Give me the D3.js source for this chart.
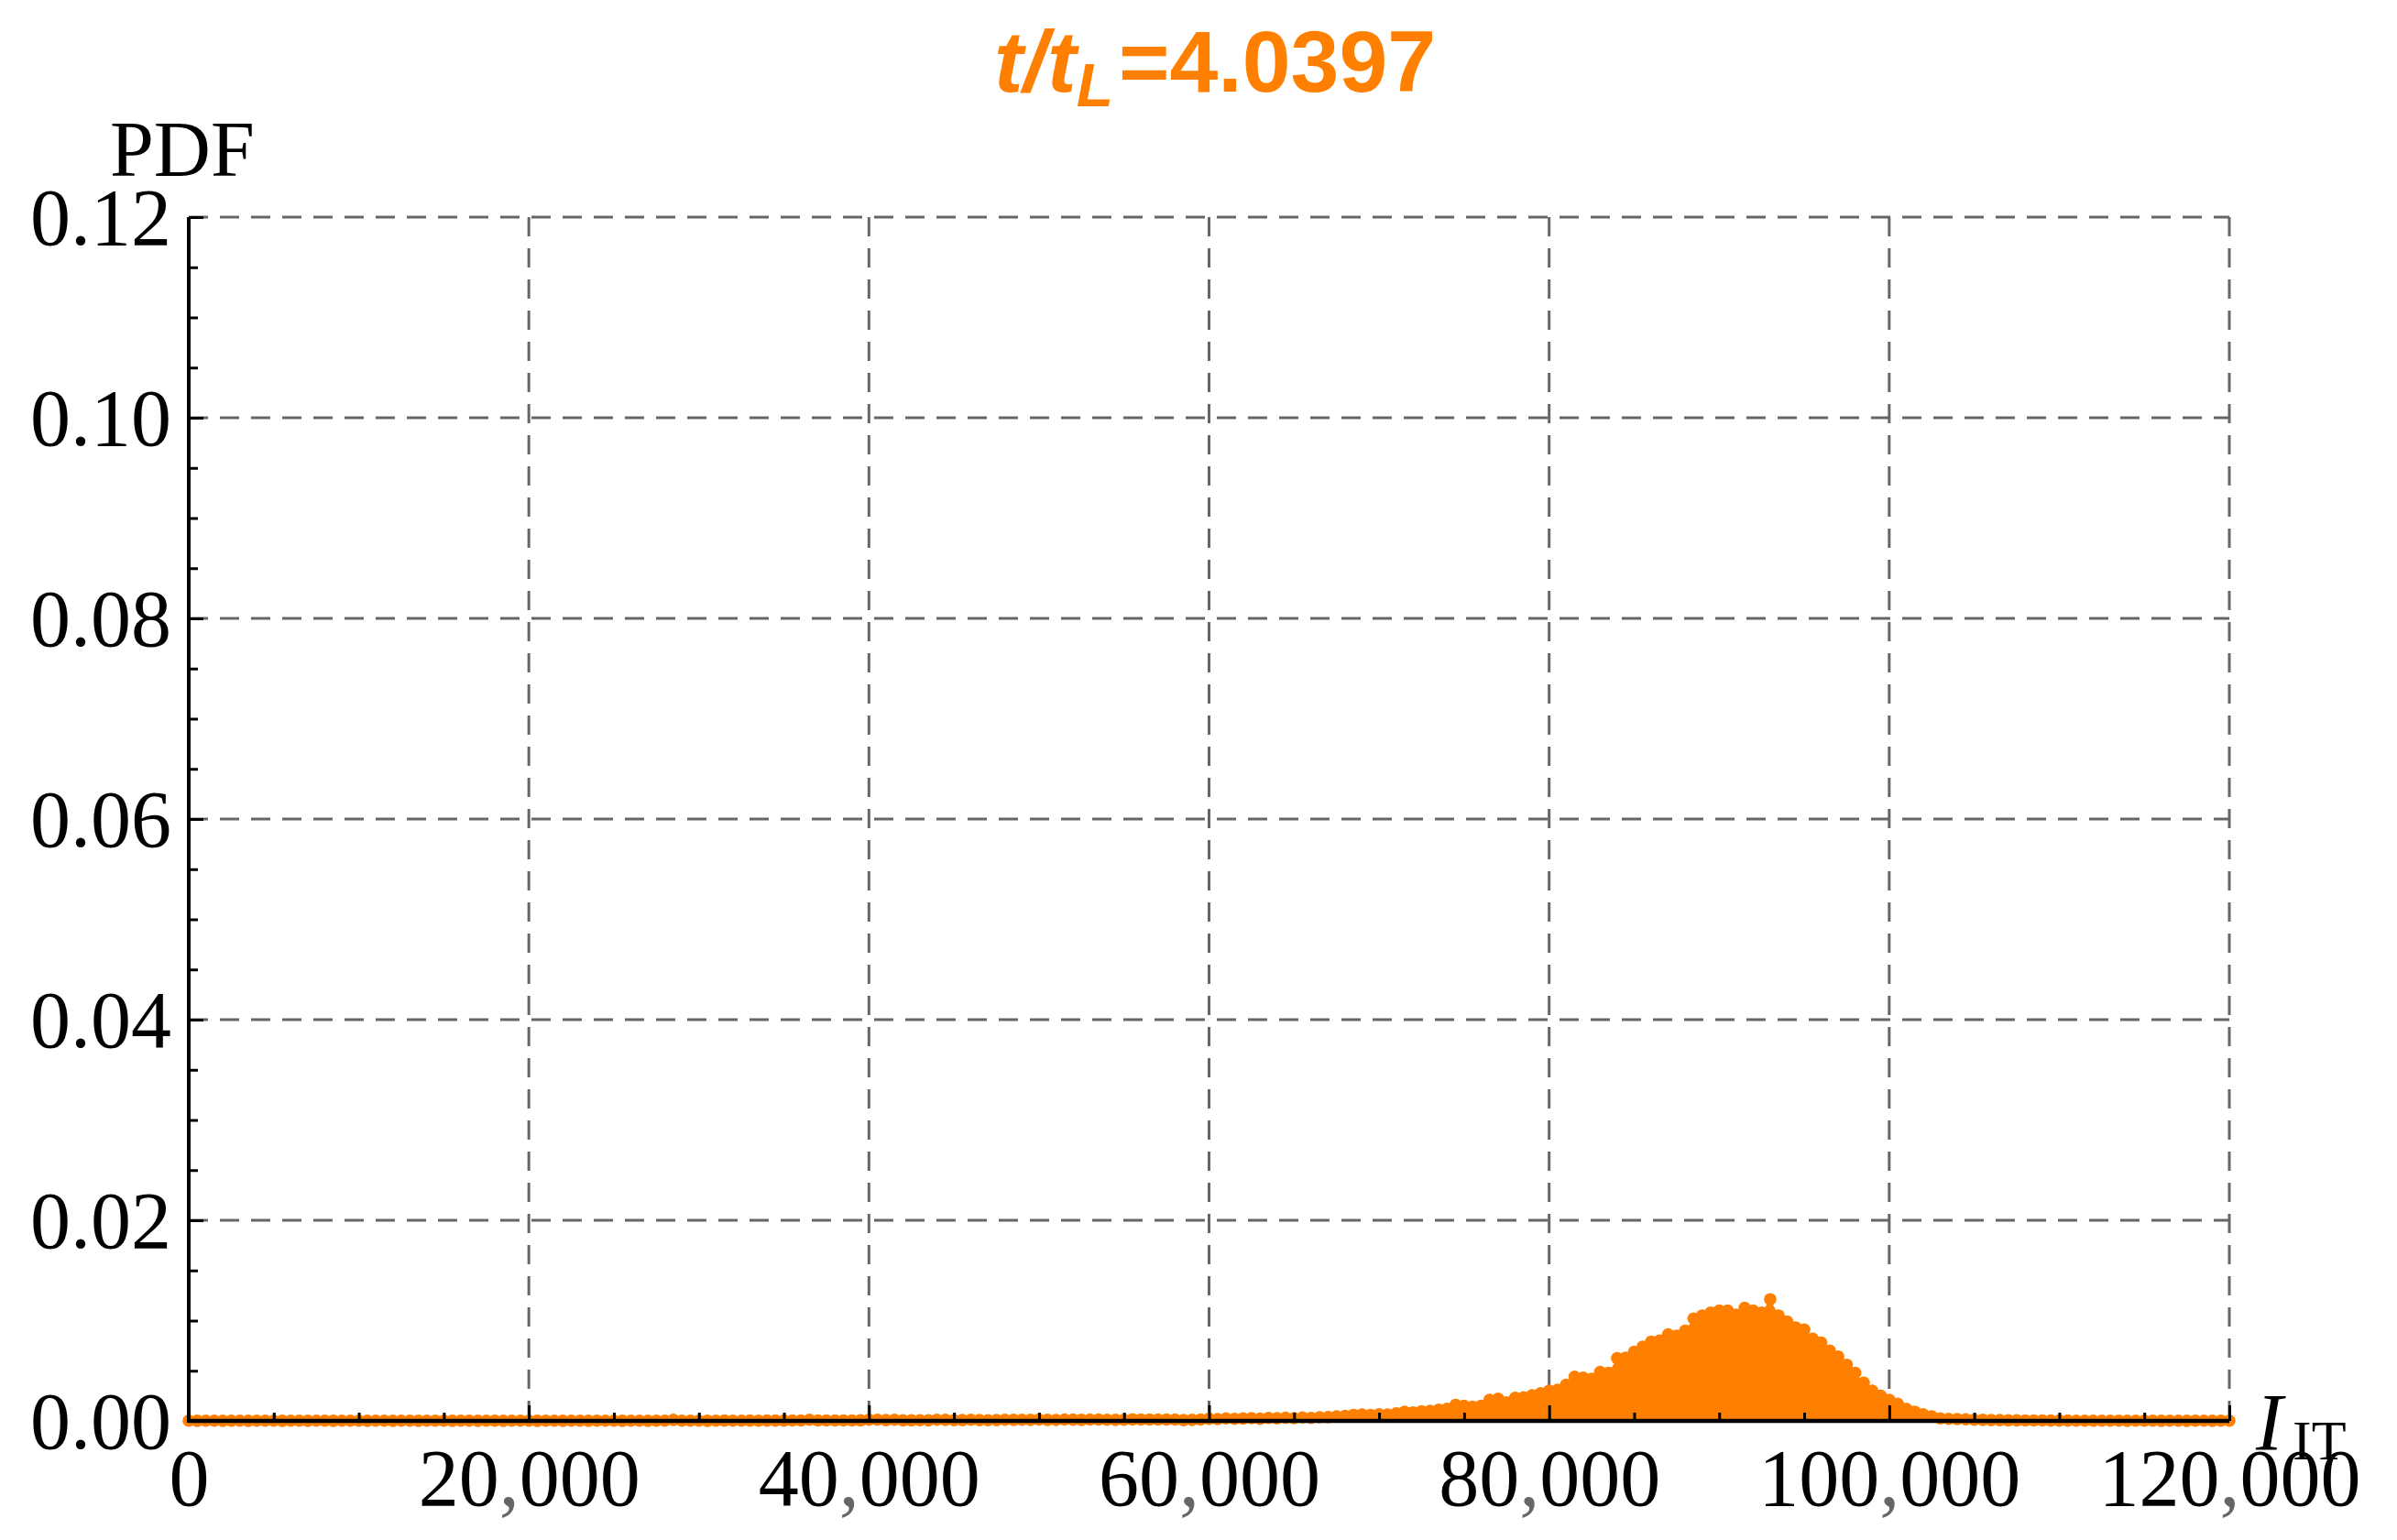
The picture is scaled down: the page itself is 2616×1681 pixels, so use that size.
<!DOCTYPE html>
<html><head><meta charset="utf-8">
<script src="https://cdn.jsdelivr.net/npm/d3@7"></script>
<style>html,body{margin:0;padding:0;background:#fff;} svg{display:block;}</style>
</head><body>
<svg id="chart" width="2616" height="1681"></svg>
<script>
// ---- data (PDF of I_IT, bins every 500 from 0 to 120,000) ----
const binStep = 500;
// 0 .. 34,500
const pdfFlat = [
 0.00002,0.00001,0.00002,0.00002,0.00001,0.00002,0.00002,0.00001,0.00002,0.00002,
 0.00002,0.00001,0.00002,0.00002,0.00001,0.00002,0.00002,0.00001,0.00002,0.00002,
 0.00002,0.00001,0.00002,0.00002,0.00001,0.00002,0.00002,0.00001,0.00002,0.00002,
 0.00002,0.00001,0.00002,0.00002,0.00001,0.00002,0.00002,0.00001,0.00002,0.00002,
 0.00002,0.00001,0.00002,0.00002,0.00001,0.00002,0.00002,0.00001,0.00002,0.00002,
 0.00002,0.00001,0.00002,0.00002,0.00001,0.00002,0.00002,0.00010,0.00002,0.00002,
 0.00002,0.00001,0.00002,0.00003,0.00002,0.00002,0.00003,0.00002,0.00003,0.00003
];
// 35,000 .. 59,500
const pdfLowTail = [
 0.00003,0.00004,0.00004,0.00012,0.00005,0.00004,0.00005,0.00004,0.00005,0.00006,
 0.00012,0.00012,0.00008,0.00012,0.00006,0.00006,0.00007,0.00006,0.00012,0.00010,
 0.00007,0.00008,0.00012,0.00008,0.00007,0.00008,0.00012,0.00010,0.00012,0.00010,
 0.00014,0.00010,0.00009,0.00014,0.00013,0.00010,0.00014,0.00014,0.00012,0.00010,
 0.00012,0.00015,0.00014,0.00014,0.00014,0.00014,0.00014,0.00008,0.00010,0.00014
];
// 60,000 .. 105,000
const pdfPeak = [
 0.00022,0.00018,0.00025,0.00020,0.00024,0.00028,0.00022,0.00030,0.00026,0.00032, // 60000-64500
 0.00028,0.00034,0.00030,0.00036,0.00038,0.00045,0.00050,0.00060,0.00063,0.00058, // 65000-69500
 0.00065,0.00063,0.00075,0.00090,0.00085,0.00095,0.00100,0.00112,0.00120,0.00160, // 70000-74500
 0.00150,0.00140,0.00150,0.00210,0.00222,0.00185,0.00230,0.00235,0.00255,0.00275, // 75000-79500
 0.00300,0.00310,0.00360,0.00440,0.00430,0.00420,0.00488,0.00480,0.00625,0.00630, // 80000-84500
 0.00690,0.00740,0.00790,0.00800,0.00862,0.00850,0.00900,0.01020,0.01050,0.01080, // 85000-89500
 0.01100,0.01100,0.01060,0.01128,0.01100,0.01080,0.01213,0.01050,0.00990,0.00930, // 90000-94500
 0.00910,0.00820,0.00780,0.00700,0.00640,0.00560,0.00480,0.00380,0.00300,0.00250, // 95000-99500
 0.00210,0.00170,0.00120,0.00090,0.00065,0.00045,0.00025,0.00020,0.00018,0.00016, // 100000-104500
 0.00012                                                                           // 105000
];
// 105,500 .. 120,000
const pdfHighTail = [
 0.00010,0.00008,0.00008,0.00006,0.00006,0.00005,0.00004,0.00004,0.00003,0.00003,
 0.00003,0.00002,0.00002,0.00002,0.00002,0.00002,0.00002,0.00001,0.00002,0.00002,
 0.00002,0.00001,0.00002,0.00002,0.00001,0.00002,0.00002,0.00001,0.00002,0.00002
];
const xMajorTicks = [0, 20000, 40000, 60000, 80000, 100000, 120000];
const xGridLines  = [20000, 40000, 60000, 80000, 100000, 120000];
const yMajorTicks = [0, 0.02, 0.04, 0.06, 0.08, 0.10, 0.12];
const yGridLines  = [0.02, 0.04, 0.06, 0.08, 0.10, 0.12];
const titleParts = {main: "t/t", sub: "L", rest: "=4.0397"};
const yLabel = "PDF";
const xLabel = {main: "I", sub: "IT"};

// ---- chart ----
const pdfValues = pdfFlat.concat(pdfLowTail, pdfPeak, pdfHighTail);
const data = pdfValues.map((v, i) => ({x: i * binStep, v}));

const orange = "#ff8000";
const serif = "'Liberation Serif','Times New Roman',serif";
const sans = "'Liberation Sans',Arial,sans-serif";

const x = d3.scaleLinear().domain([0, 120000]).range([206, 2433]);
const y = d3.scaleLinear().domain([0, 0.12]).range([1551, 237]);
const svg = d3.select("#chart");

// grid
const grid = svg.append("g").attr("stroke", "#666").attr("stroke-width", 3).attr("stroke-dasharray", "21 13");
grid.selectAll("line.v").data(xGridLines).join("line").attr("class", "v")
  .attr("x1", d => x(d)).attr("x2", d => x(d)).attr("y1", y(0.12)).attr("y2", y(0));
grid.selectAll("line.h").data(yGridLines).join("line").attr("class", "h")
  .attr("x1", x(0)).attr("x2", x(120000)).attr("y1", d => y(d)).attr("y2", d => y(d));

// filled PDF + points
svg.append("path").datum(data)
  .attr("d", d3.area().x(d => x(d.x)).y0(y(0)).y1(d => y(d.v)))
  .attr("fill", orange);
svg.append("g").selectAll("circle").data(data).join("circle")
  .attr("cx", d => x(d.x)).attr("cy", d => y(d.v)).attr("r", 6.8).attr("fill", orange);

// axes
const fmtX = d3.format(",");
const gx = svg.append("g").attr("transform", `translate(0,${y(0)})`)
  .call(d3.axisBottom(x).tickValues(xMajorTicks).tickSize(-17).tickPadding(30).tickFormat(fmtX));
gx.select(".domain").remove();
gx.selectAll(".tick line").attr("stroke", "#000").attr("stroke-width", 3);
gx.selectAll(".tick text").attr("font-family", serif).attr("font-size", 88).attr("fill", "#000")
  .each(function(d) {
    const t = d3.select(this); const s = fmtX(d); t.text(null);
    s.split(",").forEach((p, i) => {
      if (i > 0) t.append("tspan").attr("fill", "#666").text(",");
      t.append("tspan").text(p);
    });
  });
const gxm = svg.append("g").attr("transform", `translate(0,${y(0)})`)
  .call(d3.axisBottom(x).tickValues(d3.range(0, 120001, 5000).filter(v => v % 20000 !== 0)).tickSize(-9).tickFormat(""));
gxm.select(".domain").remove();
gxm.selectAll(".tick line").attr("stroke", "#000").attr("stroke-width", 3);

const gy = svg.append("g").attr("transform", `translate(${x(0)},0)`)
  .call(d3.axisLeft(y).tickValues(yMajorTicks).tickSize(-16).tickPadding(19).tickFormat(d3.format(".2f")));
gy.select(".domain").remove();
gy.selectAll(".tick line").attr("stroke", "#000").attr("stroke-width", 3);
gy.selectAll(".tick text").attr("font-family", serif).attr("font-size", 88).attr("fill", "#000").attr("dy", "0.34em");
const gym = svg.append("g").attr("transform", `translate(${x(0)},0)`)
  .call(d3.axisLeft(y).tickValues(d3.range(0, 0.1201, 0.005).filter((v, i) => i % 4 !== 0)).tickSize(-10).tickFormat(""));
gym.select(".domain").remove();
gym.selectAll(".tick line").attr("stroke", "#000").attr("stroke-width", 3);

svg.append("line").attr("x1", x(0)).attr("x2", x(120000)).attr("y1", y(0)).attr("y2", y(0))
  .attr("stroke", "#000").attr("stroke-width", 4.5);
svg.append("line").attr("x1", x(0)).attr("x2", x(0)).attr("y1", y(0) + 2).attr("y2", y(0.12))
  .attr("stroke", "#000").attr("stroke-width", 4);

// axis labels
svg.append("text").attr("x", 120).attr("y", 192).attr("font-family", serif).attr("font-size", 86).attr("fill", "#000").text(yLabel);
const xl = svg.append("text").attr("x", 2462).attr("y", 1582).attr("font-family", serif).attr("fill", "#000");
xl.append("tspan").attr("font-size", 88).attr("font-style", "italic").text(xLabel.main);
xl.append("tspan").attr("x", 2502).attr("dy", 11).attr("font-size", 62).text(xLabel.sub);

// title
const tt = svg.append("text").attr("x", 1085).attr("y", 100).attr("font-family", sans).attr("font-weight", "bold").attr("fill", orange);
tt.append("tspan").attr("font-size", 95).attr("font-style", "italic").text(titleParts.main);
tt.append("tspan").attr("font-size", 66).attr("font-style", "italic").attr("dy", 16).text(titleParts.sub);
tt.append("tspan").attr("font-size", 95).attr("dy", -16).attr("dx", 6).text(titleParts.rest);
</script>
</body></html>
